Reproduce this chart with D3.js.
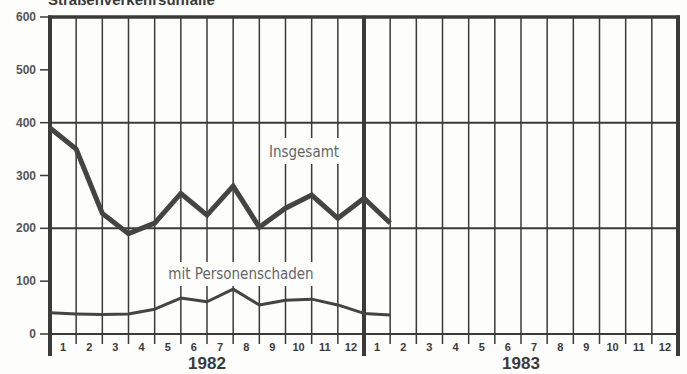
<!DOCTYPE html>
<html>
<head>
<meta charset="utf-8">
<script src="https://cdn.jsdelivr.net/npm/d3@7"></script>
<style>
  body { margin: 0; background: #fdfdfb; }
  svg { display: block; }
</style>
</head>
<body>
<svg id="drawing_region"></svg>
<script>
// Straßenverkehrsunfälle, monthly (1982 - 1983)
const years = ['1982', '1983'];
const months = ['1','2','3','4','5','6','7','8','9','10','11','12'];
const insgesamt = [390, 350, 228, 190, 210, 266, 225, 280, 202, 238, 263, 219, 257, 210];
const personenschaden = [40, 38, 37, 38, 47, 68, 61, 85, 55, 64, 66, 55, 39, 36];
const yTicks = [0, 100, 200, 300, 400, 500, 600];
const gridTicks = [0, 200, 400];
const seriesLabels = ['Insgesamt', 'mit Personenschaden'];

class MonthlyLinePlot {

  constructor( config ) {
      this.config = config;
      this.init();
  }

  init() {
      let self = this;
      let c = self.config;

      self.svg = d3.select( c.parent )
          .attr('width', c.width)
          .attr('height', c.height);

      self.nMonths = years.length * months.length;

      self.xscale = d3.scaleLinear()
          .domain([0, self.nMonths])
          .range([c.left, c.right]);

      self.yscale = d3.scaleLinear()
          .domain([0, 600])
          .range([c.bottom, c.top]);

      self.line = d3.line()
          .x( (d, i) => self.xscale(i) )
          .y( d => self.yscale(d) );
  }

  render() {
      let self = this;
      let c = self.config;
      let ink = '#3a3a3a';

      // title (cut off at the top edge, as in the scan)
      self.svg.append('text')
          .attr('x', 48).attr('y', 5)
          .attr('font-family', 'Liberation Sans, Arial, sans-serif')
          .attr('font-weight', 'bold')
          .attr('font-size', 15)
          .attr('fill', ink)
          .text('Straßenverkehrsunfälle');

      // thin vertical month lines
      let inner = d3.range(1, self.nMonths).filter( i => i % 12 != 0 );
      self.svg.selectAll('.vline')
          .data(inner)
          .enter()
          .append('line')
          .attr('x1', d => self.xscale(d)).attr('x2', d => self.xscale(d))
          .attr('y1', self.yscale(600)).attr('y2', c.bottom + 10)
          .attr('stroke', ink)
          .attr('stroke-width', 1.5);

      // horizontal grid lines
      self.svg.selectAll('.hline')
          .data(gridTicks)
          .enter()
          .append('line')
          .attr('x1', c.left).attr('x2', c.right)
          .attr('y1', d => self.yscale(d)).attr('y2', d => self.yscale(d))
          .attr('stroke', ink)
          .attr('stroke-width', 2);

      // top border
      self.svg.append('line')
          .attr('x1', c.left - 2).attr('x2', c.right + 2)
          .attr('y1', self.yscale(600)).attr('y2', self.yscale(600))
          .attr('stroke', ink)
          .attr('stroke-width', 3.5);

      // thick year boundaries
      self.svg.selectAll('.yline')
          .data(d3.range(0, self.nMonths + 1, 12))
          .enter()
          .append('line')
          .attr('x1', d => self.xscale(d)).attr('x2', d => self.xscale(d))
          .attr('y1', self.yscale(600) - 1.5).attr('y2', c.bottom + 22)
          .attr('stroke', ink)
          .attr('stroke-width', 4);

      // y axis tick marks and labels
      self.svg.selectAll('.ytick')
          .data(yTicks)
          .enter()
          .append('line')
          .attr('x1', c.left - 10).attr('x2', c.left)
          .attr('y1', d => self.yscale(d)).attr('y2', d => self.yscale(d))
          .attr('stroke', ink)
          .attr('stroke-width', 1.5);

      self.svg.selectAll('.ylabel')
          .data(yTicks)
          .enter()
          .append('text')
          .attr('x', c.left - 14)
          .attr('y', d => self.yscale(d) + 4)
          .attr('text-anchor', 'end')
          .attr('font-family', 'Liberation Sans, Arial, sans-serif')
          .attr('font-weight', 'bold')
          .attr('font-size', 12)
          .attr('fill', '#555')
          .text(d => d);

      // series labels on white patches
      let labelPos = [
          { x: 304, y: 157, w: 84, h: 26 },
          { x: 241, y: 279, w: 168, h: 24 }
      ];
      seriesLabels.forEach( (s, i) => {
          let p = labelPos[i];
          self.svg.append('rect')
              .attr('x', p.x - p.w / 2).attr('y', p.y - p.h + 7)
              .attr('width', p.w).attr('height', p.h)
              .attr('fill', '#fdfdfb');
          self.svg.append('text')
              .attr('x', p.x).attr('y', p.y)
              .attr('text-anchor', 'middle')
              .attr('font-family', 'Liberation Sans Narrow, DejaVu Sans Condensed, sans-serif')
              .attr('font-size', 15)
              .attr('fill', '#666')
              .text(s);
      });

      // data lines
      self.svg.append('path')
          .datum(insgesamt)
          .attr('d', self.line)
          .attr('fill', 'none')
          .attr('stroke', '#444')
          .attr('stroke-width', 5)
          .attr('stroke-linejoin', 'miter');

      self.svg.append('path')
          .datum(personenschaden)
          .attr('d', self.line)
          .attr('fill', 'none')
          .attr('stroke', '#444')
          .attr('stroke-width', 3)
          .attr('stroke-linejoin', 'round');

      // month labels
      let monthData = [];
      years.forEach( (y, yi) => {
          months.forEach( (m, mi) => monthData.push({ label: m, pos: yi * 12 + mi + 0.5 }) );
      });
      self.svg.selectAll('.mlabel')
          .data(monthData)
          .enter()
          .append('text')
          .attr('x', d => self.xscale(d.pos))
          .attr('y', c.bottom + 17)
          .attr('text-anchor', 'middle')
          .attr('font-family', 'Liberation Sans, Arial, sans-serif')
          .attr('font-weight', 'bold')
          .attr('font-size', 11)
          .attr('fill', ink)
          .text(d => d.label);

      // year labels
      self.svg.selectAll('.year')
          .data(years)
          .enter()
          .append('text')
          .attr('x', (d, i) => self.xscale(i * 12 + 6))
          .attr('y', c.bottom + 35)
          .attr('text-anchor', 'middle')
          .attr('font-family', 'Liberation Sans, Arial, sans-serif')
          .attr('font-weight', 'bold')
          .attr('font-size', 17)
          .attr('fill', ink)
          .text(d => d);
  }
}

const plot = new MonthlyLinePlot({
    parent: '#drawing_region',
    width: 687,
    height: 374,
    left: 50,
    right: 678,
    top: 17,
    bottom: 334
});
plot.render();
</script>
</body>
</html>
